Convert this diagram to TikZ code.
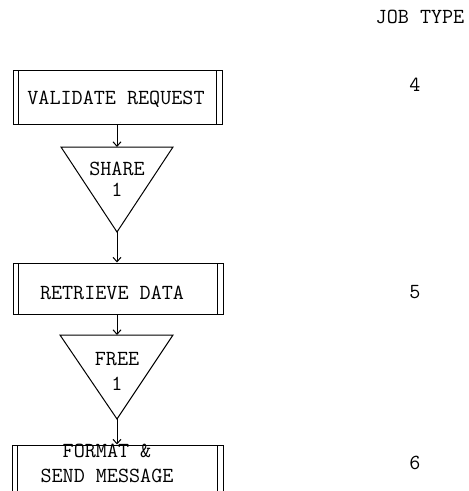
\documentclass[tikz,border=0pt]{standalone}
\usetikzlibrary{arrows.meta}
\tikzset{
  typed/.style={font=\ttfamily\fontsize{21.5}{23}\selectfont, inner sep=0pt},
  procbox/.style={draw, line width=1pt, rectangle, inner sep=0pt,
    path picture={
      \draw[line width=1pt] ([xshift=5pt]path picture bounding box.north west) -- ([xshift=5pt]path picture bounding box.south west);
      \draw[line width=1pt] ([xshift=-6pt]path picture bounding box.north east) -- ([xshift=-6pt]path picture bounding box.south east);
    }},
  flow/.style={line width=1pt, -{Straight Barb[length=4.5pt,width=8pt]}},
  tri/.style={line width=1pt, line join=miter},
}
\begin{document}
\begin{tikzpicture}[x=1pt,y=-1pt]
\useasboundingbox (0,0) rectangle (469,491);

% process boxes
\node[procbox, minimum width=209pt, minimum height=54pt] (validate) at (117.5,97) {};
\node[procbox, minimum width=210pt, minimum height=51pt] (retrieve) at (118,288.5) {};
\node[procbox, minimum width=211pt, minimum height=46pt] (format) at (117.5,468) {};

% share / free triangles
\coordinate (s1l) at (61,147);
\coordinate (s1r) at (173,147);
\coordinate (s1top) at (117,147);
\coordinate (s1tip) at (117,232);
\draw[tri] (s1l) -- (s1r) -- (s1tip) -- cycle;

\coordinate (f1l) at (60,335);
\coordinate (f1r) at (173,335);
\coordinate (f1top) at (117,335);
\coordinate (f1tip) at (117,419);
\draw[tri] (f1l) -- (f1r) -- (f1tip) -- cycle;

% texts
\node[typed] (tv) at (116,99) {VALIDATE REQUEST};
\node[typed] (ts) at (117,168.5) {SHARE};
\node[typed] (ts1) at (117,190) {1};
\node[typed] (tr) at (112,293) {RETRIEVE DATA};
\node[typed] (tf) at (117,359) {FREE};
\node[typed] (tf1) at (117,384) {1};
\node[typed] (tfm) at (107,451) {FORMAT \&};
\node[typed] (tsm) at (107,476) {SEND MESSAGE};

\node[typed] (jt) at (420,17) {JOB TYPE};
\node[typed] (j4) at (415,85) {4};
\node[typed] (j5) at (415,292) {5};
\node[typed] (j6) at (415,463) {6};

% connectors
\draw[flow] (validate.south -| s1top) -- (s1top);
\draw[flow] (s1tip) -- (s1tip |- retrieve.north);
\draw[flow] (retrieve.south -| f1top) -- (f1top);
\draw[flow] (f1tip) -- (f1tip |- format.north);
\end{tikzpicture}
\end{document}
